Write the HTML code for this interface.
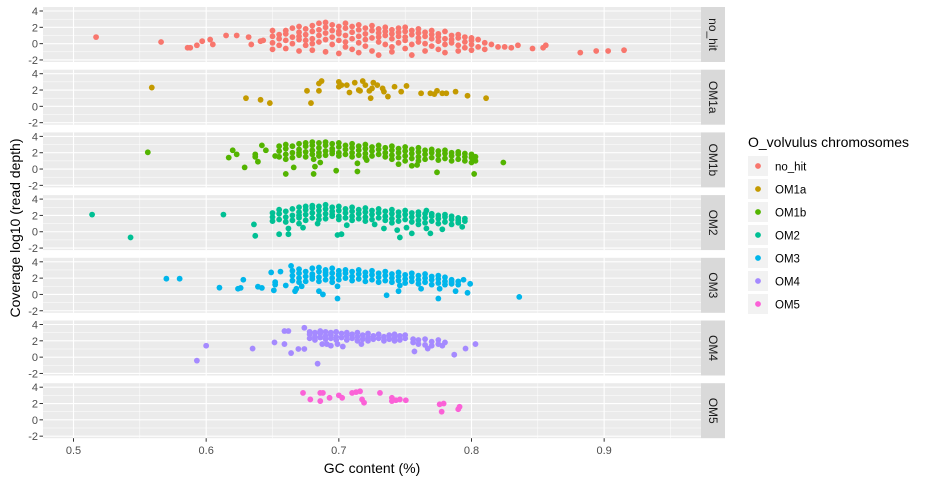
<!DOCTYPE html>
<html><head><meta charset="utf-8"><style>
body{margin:0;background:#fff;}
svg{display:block;font-family:"Liberation Sans",Arial,sans-serif;}
</style></head><body>
<svg id="chart" width="933" height="484"></svg>
<script>
const panelNames = ["no_hit","OM1a","OM1b","OM2","OM3","OM4","OM5"];
const panelColors = ["#F8766D","#C49A00","#53B400","#00C094","#00B6EB","#A58AFF","#FB61D7"];
const xTicks = [0.5,0.6,0.7,0.8,0.9];
const xTickLabels = ["0.5","0.6","0.7","0.8","0.9"];
const yTicks = [-2,0,2,4];
const yTickLabels = ["-2","0","2","4"];
// column format: [gc, [coverage values...]]
const noHitCols = [[.650,[.1,.9,-.7,1.6]],[.655,[1.1,-.2,.6]],[.660,[1.6,.4,1.2,-.6]],[.665,[.8,1.9,0]],[.670,[1.4,.5,2.1,-.9,.9]],[.675,[1.8,-.2,1.1,.4]],[.680,[2.2,1.5,.6,-.8,0]],[.685,[2.5,1,1.7,.2]],[.690,[2,1.3,.5,2.6,-1]],[.695,[1.6,.8,2.3,-.1]],[.700,[2.1,1.2,.4,-1.2,1.5]],[.705,[1.9,.2,1,2.5,-.4]],[.710,[1.4,2.1,.6,-.7]],[.715,[1.7,.9,.1,2.3,-1.1]],[.720,[1.2,1.9,.5,-.3]],[.725,[1.6,.7,2.2,-.9]],[.730,[1.3,.2,1.8,.8,-1.4]],[.735,[2,1,-.1,1.5]],[.740,[.6,1.7,-.4,1.2,-1]],[.745,[1.9,.9,.1,1.4]],[.750,[1.5,.4,2,-.6,.8]],[.755,[1.1,1.6,-.1,-1.4]],[.760,[1.8,.7,.2,1.3]],[.765,[1.4,0,.9,-.9]],[.770,[1.6,.6,1.1,-.3]],[.775,[1.2,.3,.8,-.7]],[.780,[1.5,-.1,.6,-1.1]],[.785,[1,.1,.5]],[.790,[1.1,-.2,.7,-.9]],[.795,[.8,.2,-.5]],[.800,[.4,-.1,.7,-.8]],[.805,[.5,-.4]],[.810,[.1,-.7]],[.815,[-.1]]];
const noHitPts = [[.517,.8],[.566,.2],[.586,-.5],[.588,-.5],[.593,-.2],[.597,.3],[.603,.5],[.605,-.1],[.615,1],[.623,1],[.632,.8],[.634,-.1],[.641,.3],[.643,.4],[.820,-.4],[.825,-.4],[.830,-.5],[.835,-.2],[.846,-.6],[.854,-.5],[.856,-.2],[.882,-1.1],[.894,-.9],[.903,-.9],[.915,-.8]];
const om1aPts = [[.559,2.3],[.630,1],[.641,.8],[.648,.4],[.676,1.9],[.679,.4],[.685,1.9],[.685,2.8],[.687,3.1],[.700,3],[.700,2.4],[.702,2.6],[.706,2.6],[.708,1.7],[.712,2.9],[.715,2],[.716,1.9],[.718,3.1],[.720,2.6],[.723,1.9],[.724,1],[.725,2.2],[.726,2.9],[.729,2.6],[.733,2.2],[.734,1.8],[.737,1.2],[.742,2.4],[.747,1.8],[.751,2.5],[.762,1.6],[.769,1.6],[.772,1.5],[.774,1.9],[.778,1.6],[.781,1.6],[.788,1.8],[.797,1.3],[.811,1]];
const om1bCols = [[.655,[2.2,1.5,2.8]],[.660,[2.5,1.8,3,1.2]],[.665,[2,2.8,1.4]],[.670,[2.4,3.1,1.7,2]],[.675,[2.8,2.1,1.5,3.2]],[.680,[2.3,2.9,1.8,3.3]],[.685,[2.6,2,3.2,1.6]],[.690,[2.9,2.2,1.7,3.3]],[.695,[2.5,3.1,1.9,2.2]],[.700,[2.7,2,3.2,1.6]],[.705,[2.4,2.9,1.8]],[.710,[2.6,2,3.1,1.5]],[.715,[2.3,2.8,1.7]],[.720,[2.5,1.9,3,1.4]],[.725,[2.2,2.7,1.6]],[.730,[2.4,1.8,2.9]],[.735,[2,2.6,1.5]],[.740,[2.3,1.7,2.8,1.2]],[.745,[2,2.5,1.4]],[.750,[2.2,1.6,2.7,1]],[.755,[1.9,2.4,1.3]],[.760,[2.1,1.5,2.6,1]],[.765,[1.8,2.3,1.2]],[.770,[2,1.4,2.4]],[.775,[1.7,2.2,1.1]],[.780,[1.9,1.3,2.3]],[.785,[1.6,2,1]],[.790,[1.8,1.2,2.1]],[.795,[1.5,1.9,1]],[.800,[1.4,1.8,.8]],[.803,[1,1.5]]];
const om1bPts = [[.556,2.05],[.617,1.4],[.620,2.3],[.623,1.8],[.629,.2],[.637,1.8],[.637,1.5],[.639,.9],[.642,2.9],[.645,2.3],[.652,1.6],[.660,-.6],[.666,.2],[.681,-.6],[.681,1.2],[.682,.3],[.686,.8],[.698,-.2],[.714,-.3],[.714,.7],[.721,1.1],[.745,.6],[.755,.4],[.759,.5],[.774,-.4],[.802,-.6],[.824,.8]];
const om2Cols = [[.650,[1.8,1.3,2.3]],[.655,[2.2,1.5,2.7]],[.660,[2.5,1.8,1.2]],[.665,[2,2.8,1.4]],[.670,[2.4,3,1.7,2]],[.675,[2.7,2.1,1.4,3.1]],[.680,[2.3,2.9,1.7,3.2]],[.685,[2.6,2,3.1,1.5]],[.690,[2.8,2.2,1.6,3.3]],[.695,[2.5,3,1.9,2.1]],[.700,[2.6,1.9,3.1,1.5]],[.705,[2.3,2.8,1.7]],[.710,[2.5,1.9,3,1.4]],[.715,[2.2,2.7,1.6]],[.720,[2.4,1.8,2.9,1.3]],[.725,[2.1,2.6,1.5]],[.730,[2.3,1.7,2.8]],[.735,[1.9,2.5,1.4]],[.740,[2.2,1.6,2.7,1.1]],[.745,[1.9,2.4,1.3]],[.750,[2.1,1.5,2.6]],[.755,[1.8,2.3,1.2]],[.760,[2,1.4,2.4,.9]],[.765,[1.7,2.2,1.1]],[.770,[1.9,1.3,2.2]],[.775,[1.6,2,1]],[.780,[1.8,1.2,2.1]],[.785,[1.5,1.9,.9]],[.790,[1.7,1.1,1.4]],[.795,[1.3,1.6]]];
const om2Pts = [[.514,2.1],[.543,-.7],[.613,2.1],[.636,.9],[.637,-.5],[.655,-.3],[.662,-.3],[.662,.4],[.670,1],[.673,.5],[.684,1],[.699,-.4],[.702,-.3],[.706,.8],[.727,.9],[.734,.4],[.744,.2],[.746,-.7],[.751,.5],[.755,-.2],[.766,2.6],[.766,.4],[.769,-.2],[.778,.3],[.793,.6]];
const om3Cols = [[.665,[2.3,1.7,2.9]],[.670,[2.6,2,3.1,1.5]],[.675,[2.2,2.8,1.6]],[.680,[2.5,3.2,1.9,2.2]],[.685,[2.8,2.1,3.3,1.6]],[.690,[2.4,3,1.8,2.7]],[.695,[2.6,2,3.2,1.5]],[.700,[2.3,2.9,1.8,2.5]],[.705,[2.6,2,3]],[.710,[2.2,2.8,1.7]],[.715,[2.5,1.9,3]],[.720,[2.2,2.7,1.6]],[.725,[2.4,1.8,2.9]],[.730,[2.1,2.6,1.5]],[.735,[2.3,1.7,2.8]],[.740,[2,2.5,1.5]],[.745,[2.2,1.7,2.7]],[.750,[1.9,2.4,1.4]],[.755,[2.1,1.6,2.6]],[.760,[1.8,2.3,1.3]],[.765,[2,1.5,2.5]],[.770,[1.8,2.2,1.2]],[.775,[1.9,1.4,2.3]],[.780,[1.6,2.1,1.2]],[.785,[1.8,1.3,1.5]],[.790,[1.6,1.2]]];
const om3Pts = [[.570,1.93],[.580,1.93],[.610,.83],[.624,.7],[.626,.8],[.628,1.8],[.639,.95],[.642,.8],[.649,2.7],[.651,.5],[.652,1.5],[.652,1.2],[.656,2.8],[.660,1.1],[.664,3.5],[.667,.4],[.668,.7],[.672,1],[.685,.4],[.688,0],[.699,-.5],[.699,1],[.736,-.1],[.745,.4],[.746,1.1],[.762,.7],[.775,-.5],[.776,.7],[.788,.4],[.797,.2],[.799,1.3],[.794,1.8],[.836,-.3]];
const om4Cols = [[.678,[2.8,2.3,3.1]],[.682,[2.5,3,2.1]],[.686,[2.9,2.4,3.2]],[.690,[2.6,3.1,2.2]],[.694,[2.8,2.3,3]],[.698,[2.5,3.1,2.1]],[.702,[2.9,2.4]],[.706,[2.6,3,2.1]],[.710,[2.8,2.3]],[.714,[2.5,3,2]],[.718,[2.7,2.2]],[.722,[2.9,2.4,2]],[.726,[2.6,2.2]],[.730,[2.8,2.3]],[.734,[2.5,2]],[.738,[2.7,2.2]],[.742,[2.4,2.8,2]],[.746,[2.6,2.1]],[.750,[2.3,2.7]],[.756,[2.2,1.8]],[.760,[2.1,1.6]],[.765,[2.2,1.5]],[.770,[1.9,1.4]],[.775,[2.1,1.6]]];
const om4Pts = [[.593,-.43],[.600,1.4],[.635,1.05],[.6515,1.8],[.659,1.6],[.664,.5],[.6695,1],[.674,1],[.684,-.8],[.659,3.2],[.662,3.2],[.674,3.6],[.6875,1.6],[.691,1.6],[.694,1.4],[.699,1.6],[.703,1.3],[.717,1.6],[.757,.7],[.778,1.4],[.787,.3],[.7955,1.05],[.803,1.6],[.780,1.8],[.767,1.05]];
const om5Pts = [[.673,3.3],[.6785,2.5],[.686,2.3],[.686,3.3],[.688,3.3],[.693,2.7],[.700,3],[.7025,2.7],[.710,3.3],[.713,3.4],[.716,3.5],[.7175,2.5],[.719,2.1],[.731,3.3],[.740,2.7],[.740,2.3],[.743,2.4],[.746,2.5],[.7505,2.4],[.776,1.9],[.779,2],[.7775,1],[.790,1.3],[.791,1.6]];

function flat(cols,pts){const o=pts?pts.slice():[];(cols||[]).forEach(c=>c[1].forEach(v=>o.push([c[0],v])));return o;}
const panelData=[flat(noHitCols,noHitPts),flat(null,om1aPts),flat(om1bCols,om1bPts),flat(om2Cols,om2Pts),flat(om3Cols,om3Pts),flat(om4Cols,om4Pts),flat(null,om5Pts)];

const NS="http://www.w3.org/2000/svg";
const svg=document.getElementById("chart");
function el(tag,attrs,parent,text){const e=document.createElementNS(NS,tag);for(const k in attrs)e.setAttribute(k,attrs[k]);if(text!==undefined)e.textContent=text;(parent||svg).appendChild(e);return e;}
const L=43,R=701,PH=55,PSTEP=62.7,T0=7;
const X0=0.477,X1=0.973,Y0=-2.25,Y1=4.49;
const xs=g=>L+(g-X0)/(X1-X0)*(R-L);
const ys=(v,top)=>top+(Y1-v)/(Y1-Y0)*PH;

panelNames.forEach((name,i)=>{
  const top=T0+i*PSTEP;
  const g=el("g",{});
  
  
  el("rect",{x:L,y:top,width:R-L,height:PH,fill:"#EBEBEB"},g);
  [-1,1,3].forEach(v=>el("line",{x1:L,x2:R,y1:ys(v,top),y2:ys(v,top),stroke:"#fff","stroke-width":0.5},g));
  [0.55,0.65,0.75,0.85,0.95].forEach(v=>el("line",{x1:xs(v),x2:xs(v),y1:top,y2:top+PH,stroke:"#fff","stroke-width":0.5},g));
  yTicks.forEach(v=>el("line",{x1:L,x2:R,y1:ys(v,top),y2:ys(v,top),stroke:"#fff","stroke-width":1.1},g));
  xTicks.forEach(v=>el("line",{x1:xs(v),x2:xs(v),y1:top,y2:top+PH,stroke:"#fff","stroke-width":1.1},g));
  yTicks.forEach((v,j)=>{
    el("line",{x1:L-3.5,x2:L,y1:ys(v,top),y2:ys(v,top),stroke:"#333","stroke-width":1},g);
    const t=el("text",{x:L-5,y:ys(v,top)+4,"text-anchor":"end","font-size":11,fill:"#4D4D4D"},g,yTickLabels[j]);
    
    
  });
  panelData[i].forEach(p=>{
    const c=el("circle",{cx:xs(p[0]),cy:ys(p[1],top),r:2.9,fill:panelColors[i]},g);
    
    
  });
  const s=el("rect",{x:R,y:top,width:24,height:PH,fill:"#D9D9D9"},g);
  
  
  const st=el("text",{x:0,y:0,"font-size":12,fill:"#1A1A1A","text-anchor":"middle",transform:`translate(${R+8},${top+PH/2}) rotate(90)`},g,name);
  
  
});
const lastBottom=T0+6*PSTEP+PH;
xTicks.forEach((v,j)=>{
  el("line",{x1:xs(v),x2:xs(v),y1:lastBottom,y2:lastBottom+3.5,stroke:"#333","stroke-width":1});
  const t=el("text",{x:xs(v),y:lastBottom+16,"text-anchor":"middle","font-size":11,fill:"#4D4D4D"},svg,xTickLabels[j]);
  
  
});
</script>
<script>
(function(){
const svg=document.getElementById("chart");
const NS="http://www.w3.org/2000/svg";
function el(tag,attrs,text){const e=document.createElementNS(NS,tag);for(const k in attrs)e.setAttribute(k,attrs[k]);if(text!==undefined)e.textContent=text;svg.appendChild(e);return e;}
let t=el("text",{x:372,y:473,"text-anchor":"middle","font-size":14,fill:"#000"},"GC content (%)");


t=el("text",{x:0,y:0,"text-anchor":"middle","font-size":14,fill:"#000",transform:"translate(20,228) rotate(-90)"},"Coverage log10 (read depth)");


t=el("text",{x:748,y:147,"font-size":14,fill:"#000"},"O_volvulus chromosomes");


const names=["no_hit","OM1a","OM1b","OM2","OM3","OM4","OM5"];
const cols=["#F8766D","#C49A00","#53B400","#00C094","#00B6EB","#A58AFF","#FB61D7"];
names.forEach((n,i)=>{
  const y=156+i*23;
  const r=el("rect",{x:748,y:y,width:20,height:20,fill:"#F2F2F2"});
  
  
  const c=el("circle",{cx:758,cy:y+10,r:2.9,fill:cols[i]});
  
  
  const l=el("text",{x:775,y:y+14.5,"font-size":11.5,fill:"#000"},n);
  
  
});
})();
</script>
</body></html>
